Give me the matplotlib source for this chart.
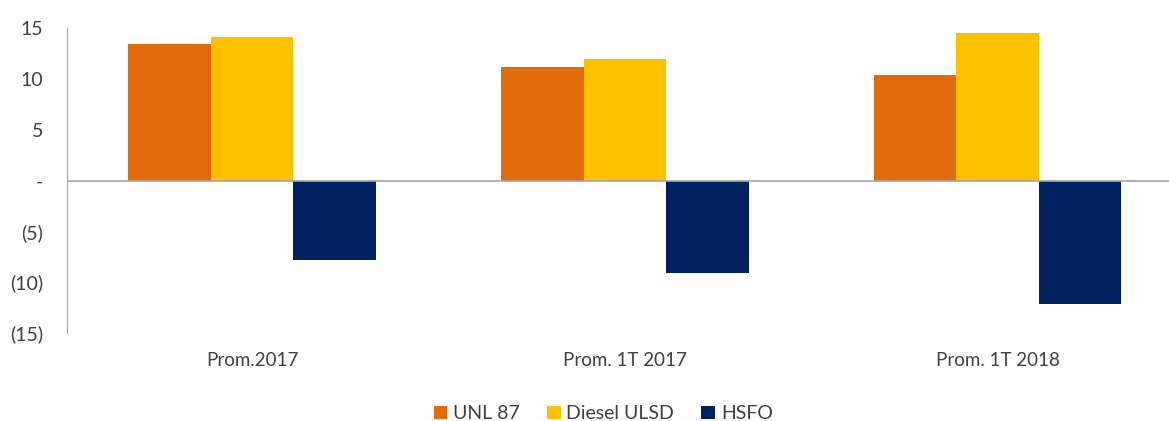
import matplotlib.pyplot as plt
import numpy as np
from matplotlib.ticker import FuncFormatter

categories = ['Prom.2017', 'Prom. 1T 2017', 'Prom. 1T 2018']
unl87 = [13.4, 11.2, 10.4]
diesel_ulsd = [14.1, 12.0, 14.5]
hsfo = [-7.8, -9.1, -12.1]

series = ['UNL 87', 'Diesel ULSD', 'HSFO']
colors = ['#E36C0A', '#FFC000', '#002060']

plt.rcParams['font.family'] = ['Lato', 'DejaVu Sans']

fig = plt.figure(figsize=(11.69, 4.21), dpi=100)
ax = fig.add_axes([67 / 1169, 1 - 333 / 421, 1 - 67 / 1169, (333 - 28) / 421])

x = np.arange(len(categories))
w = 0.2215
for i, (vals, name, c) in enumerate(zip([unl87, diesel_ulsd, hsfo], series, colors)):
    ax.bar(x + (i - 1) * w, vals, w, color=c, label=name)

ax.axhline(0, color='#A6A6A6', linewidth=1.2)
ax.set_xlim(-0.497, 2.46)
ax.set_ylim(-15, 15)
ax.set_yticks([15, 10, 5, 0, -5, -10, -15])

def fmt(v, pos):
    if v == 0:
        return '-'
    if v < 0:
        return f'({int(-v)})'
    return f'{int(v)}'

ax.yaxis.set_major_formatter(FuncFormatter(fmt))
ax.set_xticks(x)
ax.set_xticklabels(categories)
ax.tick_params(axis='x', length=0, pad=14, labelsize=13.5, labelcolor='#404040')
ax.tick_params(axis='y', length=0, pad=17, labelsize=14, labelcolor='#404040')

for s in ['top', 'right', 'bottom']:
    ax.spines[s].set_visible(False)
ax.spines['left'].set_color('#A6A6A6')

fig.legend(loc='lower center', bbox_to_anchor=(0.516, -0.045), ncol=3, frameon=False,
           fontsize=14, handlelength=0.7, handleheight=0.7, handletextpad=0.3,
           columnspacing=1.4, labelcolor='#404040')

fig.savefig('out.png', dpi=100)
